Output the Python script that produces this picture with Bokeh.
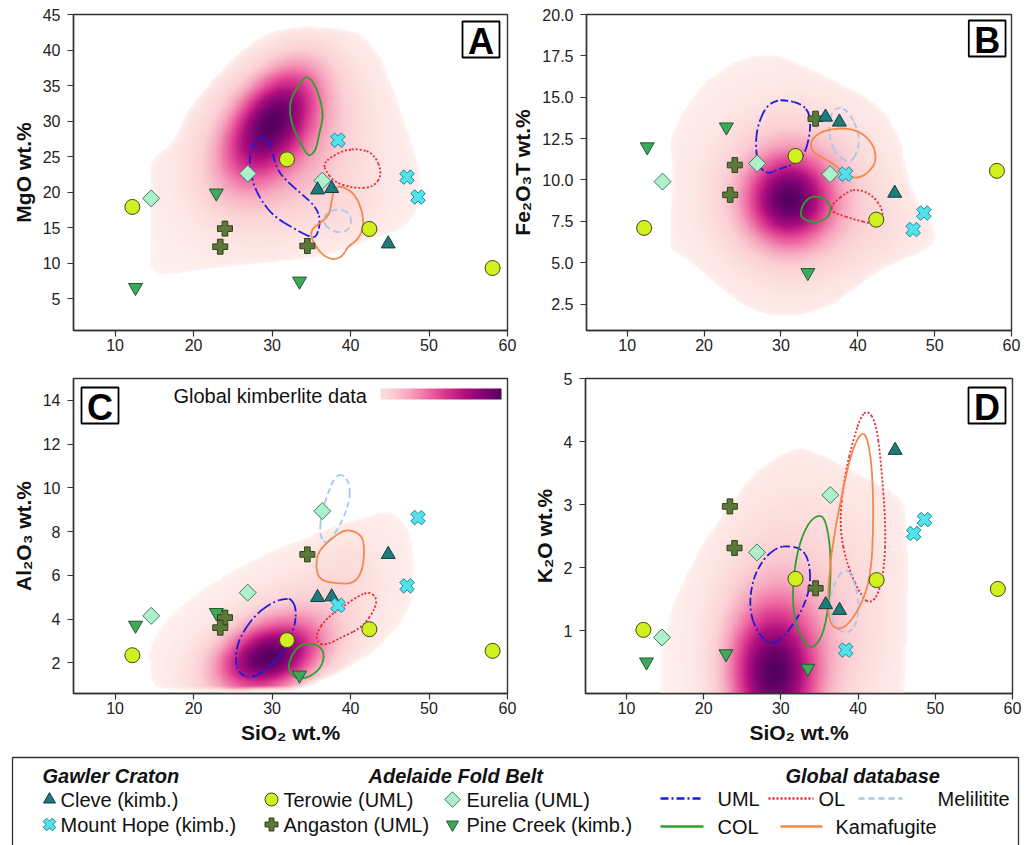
import numpy as np
from bokeh.plotting import figure
from bokeh.layouts import row, column
from bokeh.models import Range1d, FixedTicker, NumeralTickFormatter, Label, BoxAnnotation, LinearColorMapper
from bokeh.core.properties import value
from bokeh.embed import file_html
from bokeh.resources import INLINE

FONT = "Liberation Sans"

# ---------------- sample data (wt.%) ----------------
terowie_sio2 = [12.2, 31.9, 42.4, 58.1]
terowie_mgo = [17.9, 24.6, 14.8, 9.3]
terowie_fe2o3 = [7.1, 11.45, 7.6, 10.55]
terowie_al2o3 = [2.35, 3.04, 3.54, 2.55]
terowie_k2o = [1.01, 1.82, 1.80, 1.66]

eurelia_sio2 = [14.6, 26.9, 36.4]
eurelia_mgo = [19.1, 22.6, 21.6]
eurelia_fe2o3 = [9.9, 11.0, 10.35]
eurelia_al2o3 = [4.15, 5.21, 8.94]
eurelia_k2o = [0.89, 2.24, 3.15]

pinecreek_sio2 = [12.6, 22.9, 33.5]
pinecreek_mgo = [6.55, 19.85, 7.45]
pinecreek_fe2o3 = [12.0, 13.2, 4.4]
pinecreek_al2o3 = [3.72, 4.3, 1.44]
pinecreek_k2o = [0.5, 0.63, 0.4]

angaston_sio2 = [24.0, 23.4, 34.5]
angaston_mgo = [14.85, 12.3, 12.4]
angaston_fe2o3 = [10.9, 9.1, 13.7]
angaston_al2o3 = [4.07, 3.61, 6.96]
angaston_k2o = [2.31, 2.97, 1.67]

cleve_sio2 = [35.8, 37.6, 44.8]
cleve_mgo = [20.3, 20.5, 12.7]
cleve_fe2o3 = [13.8, 13.5, 9.2]
cleve_al2o3 = [4.99, 5.02, 6.96]
cleve_k2o = [1.41, 1.32, 3.86]

mounthope_sio2 = [38.4, 47.2, 48.6]
mounthope_mgo = [27.3, 22.1, 19.3]
mounthope_fe2o3 = [10.35, 7.0, 8.0]
mounthope_al2o3 = [4.63, 5.52, 8.64]
mounthope_k2o = [0.69, 2.54, 2.76]

# ---------------- global database fields (traced outlines) ----------------
uml_mgo_x = [28.6, 27.3, 27.1, 27.5, 28.6, 30.3, 32.8, 34.9, 35.7, 36.2, 35.6, 33.7, 32.0, 30.7, 30.05, 29.6]
uml_mgo_y = [27.8, 26.3, 24.0, 21.4, 18.8, 16.5, 14.85, 13.6, 13.7, 16.0, 17.9, 19.8, 21.4, 23.05, 25.4, 27.3]
col_mgo_x = [34.2, 32.4, 32.2, 32.8, 33.9, 34.7, 35.6, 36.0, 36.55, 36.2, 35.4, 34.7]
col_mgo_y = [36.3, 33.4, 31.0, 28.7, 26.3, 24.9, 25.9, 28.2, 30.6, 32.9, 35.25, 36.1]
ol_mgo_x = [36.6, 37.5, 39.2, 41.1, 43.0, 44.07, 43.0, 40.5, 37.9, 36.8]
ol_mgo_y = [24.0, 24.9, 25.9, 26.1, 25.4, 22.6, 20.7, 20.5, 21.4, 23.05]
kam_mgo_x = [38.8, 40.5, 41.5, 41.7, 40.9, 39.6, 39.0, 37.7, 36.2, 35.1, 34.9, 36.0, 37.3, 37.6, 37.9]
kam_mgo_y = [20.9, 19.8, 17.4, 15.1, 13.2, 12.3, 10.9, 10.4, 11.3, 13.2, 14.6, 15.55, 16.7, 18.8, 20.5]
mel_mgo_x = [38.3, 39.8, 40.2, 39.4, 37.7, 36.4, 36.85]
mel_mgo_y = [17.65, 17.2, 15.55, 14.3, 14.4, 15.8, 17.0]

uml_fe_x = [30.56, 32.7, 33.8, 33.8, 33.1, 31.85, 29.7, 28.4, 27.1, 26.7, 26.9, 28.0, 29.3]
uml_fe_y = [14.83, 14.6, 14.0, 12.8, 11.55, 10.95, 10.65, 10.35, 10.75, 11.95, 13.2, 14.4, 14.8]
mel_fe_x = [37.45, 38.75, 40.26, 40.0, 39.2, 37.45, 36.4, 36.2, 36.6]
mel_fe_y = [14.4, 14.2, 12.77, 11.76, 11.05, 11.35, 12.36, 13.37, 14.08]
kam_fe_x = [33.8, 35.3, 38.3, 40.5, 42.0, 42.4, 42.0, 40.5, 38.75, 37.0, 35.3, 34.0]
kam_fe_y = [12.36, 12.97, 13.17, 12.87, 12.16, 11.35, 10.75, 10.14, 10.14, 10.95, 11.35, 11.76]
col_fe_x = [34.65, 35.95, 36.6, 35.95, 34.2, 32.5, 32.7, 33.6]
col_fe_y = [9.03, 8.83, 8.22, 7.61, 7.41, 7.71, 8.42, 8.93]
ol_fe_x = [36.6, 38.75, 40.0, 41.8, 43.3, 43.1, 41.8, 39.6, 37.45, 36.6]
ol_fe_y = [8.52, 9.33, 9.43, 9.13, 8.22, 7.41, 7.35, 7.61, 7.92, 8.12]

mel_al_x = [39.0, 39.9, 39.9, 39.0, 37.75, 36.7, 36.06, 36.27, 37.1, 37.97]
mel_al_y = [10.65, 10.19, 9.43, 8.52, 7.76, 7.42, 7.9, 8.82, 9.74, 10.5]
kam_al_x = [40.3, 41.57, 41.8, 41.4, 40.3, 38.2, 36.06, 35.55, 35.85, 37.3, 39.0]
kam_al_y = [8.06, 7.76, 7.0, 6.08, 5.62, 5.62, 5.78, 6.39, 7.07, 7.6, 8.06]
ol_al_x = [42.4, 43.26, 43.26, 41.57, 39.0, 36.9, 35.85, 35.6, 36.9, 39.0, 41.1]
ol_al_y = [5.24, 5.02, 4.56, 3.64, 3.19, 2.81, 2.88, 3.34, 4.03, 4.56, 5.09]
uml_al_x = [32.46, 33.1, 32.9, 31.6, 29.3, 27.4, 25.7, 25.25, 25.9, 27.8, 30.1, 31.8]
uml_al_y = [4.91, 4.48, 3.65, 2.58, 1.67, 1.29, 1.51, 2.27, 3.19, 4.18, 4.79, 4.94]
col_al_x = [34.8, 36.27, 36.7, 36.06, 34.36, 32.9, 32.0, 32.46, 33.5]
col_al_y = [2.91, 2.73, 2.27, 1.67, 1.29, 1.29, 1.74, 2.35, 2.81]

ol_k_x = [41.2, 42.3, 42.95, 43.6, 43.4, 42.7, 41.65, 40.57, 38.63, 37.55, 38.2, 39.5, 40.35]
ol_k_y = [4.5, 4.31, 3.71, 2.65, 2.01, 1.59, 1.43, 1.51, 2.01, 2.65, 3.44, 4.08, 4.39]
kam_k_x = [40.35, 41.2, 41.86, 42.0, 41.65, 40.35, 38.2, 36.47, 36.0, 36.47, 37.76, 39.06]
kam_k_y = [4.15, 4.08, 3.55, 2.65, 1.86, 1.38, 1.01, 1.06, 1.38, 2.23, 3.07, 3.81]
col_k_x = [34.96, 35.82, 36.47, 36.4, 35.6, 34.3, 33.23, 31.7, 31.5, 32.15, 33.45]
col_k_y = [2.85, 2.75, 2.28, 1.59, 0.96, 0.72, 0.75, 1.17, 1.70, 2.28, 2.70]
uml_k_x = [30.85, 32.58, 33.66, 33.88, 32.58, 30.4, 28.7, 26.97, 25.9, 26.3, 27.8, 29.56]
uml_k_y = [2.34, 2.31, 2.12, 1.70, 1.27, 0.9, 0.77, 0.96, 1.33, 1.80, 2.15, 2.32]
mel_k_x = [38.2, 39.3, 40.14, 39.9, 38.63, 36.9, 36.25, 36.7]
mel_k_y = [2.01, 1.86, 1.49, 1.12, 0.93, 1.06, 1.38, 1.70]

# ---------------- global kimberlite density: outer edge + interior blobs ----------------
dens_mgo_edge_x = [14.5, 14.3, 14.5, 17.5, 19.2, 22.6, 26.0, 29.4, 33.7, 37.9, 41.3, 43.9, 46.0, 47.7, 49.0, 48.5,
                   46.4, 42.2, 37.9, 33.7, 27.3, 20.9, 16.7]
dens_mgo_edge_y = [8.5, 18.8, 24.5, 27.3, 31.5, 36.2, 39.9, 42.5, 43.5, 43.2, 42.5, 39.0, 32.9, 27.3, 22.6, 17.0,
                   14.6, 13.2, 11.3, 10.4, 9.9, 9.0, 8.3]
dens_mgo_cx = [30.0, 30.5, 32.0, 40.0]
dens_mgo_cy = [30.0, 27.5, 25.0, 18.0]
dens_mgo_sx = [3.6, 6.0, 10.0, 4.0]
dens_mgo_sy = [4.8, 7.0, 10.0, 4.0]
dens_mgo_rho = [0.5, 0.3, 0.1, 0.0]
dens_mgo_w = [1.0, 0.35, 0.12, 0.06]

dens_fe_edge_x = [26.25, 29.3, 31.0, 33.6, 37.0, 40.5, 43.5, 45.6, 46.5, 47.8, 50.0, 50.2, 47.8, 43.5, 40.5, 37.0,
                  32.7, 28.4, 24.1, 21.5, 18.1, 15.5, 15.5, 15.9, 15.5, 17.2, 19.8, 23.2]
dens_fe_edge_y = [17.5, 17.6, 17.3, 16.8, 16.0, 15.2, 14.2, 12.4, 10.3, 8.7, 7.1, 6.1, 5.5, 4.7, 3.7, 2.5,
                  1.75, 1.75, 2.66, 3.7, 5.1, 5.7, 7.7, 10.3, 12.4, 14.2, 15.8, 17.0]
dens_fe_cx = [31.0, 31.5, 32.0, 44.0]
dens_fe_cy = [8.8, 9.0, 9.5, 7.0]
dens_fe_sx = [3.3, 6.0, 10.0, 4.0]
dens_fe_sy = [1.6, 2.8, 5.0, 1.5]
dens_fe_rho = [0.0, 0.0, 0.0, 0.0]
dens_fe_w = [1.0, 0.3, 0.12, 0.05]

dens_al_edge_x = [14.66, 14.2, 15.7, 18.3, 21.65, 25.9, 30.1, 35.6, 40.3, 44.1, 46.2, 47.7, 48.1, 47.9, 46.2, 42.8,
                  37.75, 33.5, 25.0, 18.7]
dens_al_edge_y = [0.83, 2.58, 3.64, 4.56, 5.47, 6.39, 7.15, 7.9, 8.52, 8.9, 8.8, 7.9, 6.39, 4.86, 3.64, 2.43,
                  1.36, 0.75, 0.68, 0.75]
dens_al_cx = [29.5, 30.5, 33.0, 39.5]
dens_al_cy = [2.2, 2.6, 4.0, 6.5]
dens_al_sx = [3.8, 6.0, 10.0, 3.0]
dens_al_sy = [0.95, 1.5, 3.0, 1.2]
dens_al_rho = [0.3, 0.4, 0.6, 0.0]
dens_al_w = [1.0, 0.3, 0.1, 0.05]

dens_k_edge_x = [14.45, 14.45, 16.2, 19.6, 23.1, 26.5, 30.0, 32.6, 35.2, 39.1, 43.4, 46.0, 46.6, 46.4, 46.0]
dens_k_edge_y = [-0.1, 0.69, 1.49, 2.33, 2.97, 3.49, 3.81, 3.91, 3.81, 3.55, 3.28, 3.07, 2.12, 1.06, -0.1]
dens_k_cx = [29.0, 30.0, 33.0, 40.0]
dens_k_cy = [0.3, 0.6, 1.5, 1.5]
dens_k_sx = [3.4, 5.5, 9.0, 4.0]
dens_k_sy = [0.65, 1.1, 2.0, 1.2]
dens_k_rho = [0.0, 0.0, 0.0, 0.0]
dens_k_w = [1.0, 0.3, 0.1, 0.04]

x_ticks = [10, 20, 30, 40, 50, 60]
mgo_ticks = [5, 10, 15, 20, 25, 30, 35, 40, 45]
fe_ticks = [2.5, 5.0, 7.5, 10.0, 12.5, 15.0, 17.5, 20.0]
al_ticks = [2, 4, 6, 8, 10, 12, 14]
k_ticks = [1, 2, 3, 4, 5]

# ---------------- styling ----------------
STOPS = ["#fef4f2", "#fde6e4", "#fbd0d4", "#f6a5bd", "#ee6aa2", "#d9358f", "#b00f7d", "#820474", "#55005f"]
C_UML, C_OL, C_MEL, C_COL, C_KAM = "#1c1cdc", "#e8262e", "#a7c7ee", "#2ea02e", "#f4874c"
D_UML, D_OL, D_MEL = "8 3 2 3", "2 2", "6 4"


def build_palette(stops, n=256):
    rgb = np.array([[int(s[i:i + 2], 16) for i in (1, 3, 5)] for s in stops], float)
    pos = np.linspace(0, 1, len(stops))
    t = np.linspace(0, 1, n)
    cols = [np.interp(t, pos, rgb[:, k]) for k in range(3)]
    return ["#%02x%02x%02x" % (int(round(r)), int(round(g)), int(round(b))) for r, g, b in zip(*cols)]


PAL = build_palette(STOPS)
mapper = LinearColorMapper(palette=PAL, low=0, high=1, nan_color="rgba(0,0,0,0)")


def inside_polygon(X, Y, px, py):
    inside = np.zeros(X.shape, bool)
    n = len(px)
    j = n - 1
    for i in range(n):
        xi, yi, xj, yj = px[i], py[i], px[j], py[j]
        cond = ((yi > Y) != (yj > Y)) & (X < (xj - xi) * (Y - yi) / (yj - yi + 1e-12) + xi)
        inside ^= cond
        j = i
    return inside


def box_blur(M, r):
    k = 2 * r + 1
    pad = np.pad(M, r, mode="edge")
    c = np.vstack([np.zeros((1, pad.shape[1])), np.cumsum(pad, axis=0)])
    M1 = (c[k:, :] - c[:-k, :]) / k
    c = np.hstack([np.zeros((M1.shape[0], 1)), np.cumsum(M1, axis=1)])
    return (c[:, k:] - c[:, :-k]) / k


def density_image(edge_x, edge_y, cx, cy, sx, sy, rho, w, xr, yr, n=300):
    xs = np.linspace(xr[0], xr[1], n)
    ys = np.linspace(yr[0], yr[1], n)
    X, Y = np.meshgrid(xs, ys)
    D = np.zeros_like(X)
    for a, b, c, d, r, ww in zip(cx, cy, sx, sy, rho, w):
        u = (X - a) / c
        v = (Y - b) / d
        D += ww * np.exp(-(u * u - 2 * r * u * v + v * v) / (2 * (1 - r * r)))
    D /= D.max()
    M = inside_polygon(X, Y, edge_x, edge_y).astype(float)
    M = box_blur(box_blur(M, 5), 5)
    fade = np.clip((M - 0.5) * 3.0, 0, 1)
    img = (D ** 0.72) * (0.2 + 0.8 * fade)
    img[M < 0.5] = np.nan
    return img


def make_panel(width, height, xr, yr, mb, ylabel, yticks, xlabel=None, yfmt=None):
    p = figure(width=width, height=height, x_range=Range1d(*xr), y_range=Range1d(*yr),
               output_backend="svg", toolbar_location=None,
               min_border_left=mb[0], min_border_right=mb[1], min_border_top=mb[2], min_border_bottom=mb[3])
    p.xgrid.visible = False
    p.ygrid.visible = False
    p.outline_line_color = "#333333"
    p.outline_line_width = 1.4
    p.border_fill_alpha = 0
    for ax in (p.xaxis[0], p.yaxis[0]):
        ax.axis_line_color = "#333333"
        ax.axis_line_width = 1.4
        ax.major_tick_line_color = "#333333"
        ax.major_tick_line_width = 1.2
        ax.major_tick_out = 6
        ax.major_tick_in = 0
        ax.minor_tick_out = 0
        ax.minor_tick_in = 0
        ax.major_label_text_font = FONT
        ax.major_label_text_font_size = "16px"
        ax.major_label_text_color = "#222222"
        ax.axis_label_text_font = FONT
        ax.axis_label_text_font_size = "21px"
        ax.axis_label_text_font_style = "bold"
        ax.axis_label_text_color = "#111111"
    p.xaxis.ticker = FixedTicker(ticks=x_ticks)
    p.yaxis.ticker = FixedTicker(ticks=yticks)
    if yfmt:
        p.yaxis.formatter = NumeralTickFormatter(format=yfmt)
    p.xaxis.major_label_standoff = 2
    p.yaxis.major_label_standoff = 7
    p.yaxis.axis_label = ylabel
    p.yaxis.axis_label_standoff = 5
    if xlabel:
        p.xaxis.axis_label = xlabel
        p.xaxis.axis_label_standoff = 4
    return p


def closed_curve(p, xs, ys, color, dash="solid", width=1.8):
    n = len(xs)
    mx = [(xs[i] + xs[(i + 1) % n]) / 2 for i in range(n)]
    my = [(ys[i] + ys[(i + 1) % n]) / 2 for i in range(n)]
    x0 = [mx[i - 1] for i in range(n)]
    y0 = [my[i - 1] for i in range(n)]
    p.quadratic(x0=x0, y0=y0, x1=mx, y1=my, cx=list(xs), cy=list(ys),
                line_color=color, line_dash=dash, line_width=width)


def add_samples(p, ter, eur, pin, ang, cle, mh):
    p.scatter(pin[0], pin[1], marker="inverted_triangle", size=14, fill_color="#3fa95a", line_color="#1e5a30", line_width=1)
    p.scatter(ang[0], ang[1], marker="plus", size=15, fill_color="#5b7a3a", line_color="#2e3f1c", line_width=1)
    p.scatter(eur[0], eur[1], marker="square", angle=np.pi / 4, size=12, fill_color="#aef0cc", line_color="#3d7d5d", line_width=1)
    p.scatter(cle[0], cle[1], marker="triangle", size=14, fill_color="#1f7b7b", line_color="#0f3f3f", line_width=1)
    p.scatter(mh[0], mh[1], marker="plus", angle=np.pi / 4, size=15, fill_color="#4fe3ea", line_color="#2a7f9a", line_width=1)
    p.scatter(ter[0], ter[1], marker="circle", size=15, fill_color="#d2ef1e", line_color="#3a4a1a", line_width=1)


def px_x(xr, fw, px):
    return xr[0] + px * (xr[1] - xr[0]) / fw


def px_y(yr, fh, px):
    return yr[1] - px * (yr[1] - yr[0]) / fh


def panel_letter(p, letter, xr, yr, fw, fh, left_px, top_px):
    bw, bh = 37, 36
    box = BoxAnnotation(left=px_x(xr, fw, left_px), right=px_x(xr, fw, left_px + bw),
                        top=px_y(yr, fh, top_px), bottom=px_y(yr, fh, top_px + bh),
                        fill_color="white", fill_alpha=1, line_color="black", line_alpha=1, line_width=1.8)
    p.add_layout(box)
    p.add_layout(Label(x=px_x(xr, fw, left_px + bw / 2), y=px_y(yr, fh, top_px + bh - 16), text=letter,
                       text_align="center", text_baseline="alphabetic", text_font=FONT,
                       text_font_size="36px", text_font_style="bold", text_color="black"))


# ---------------- panels ----------------
XR = (4.7, 60)
A_YR, B_YR, C_YR, D_YR = (0.5, 45), (0.9, 20), (0.6, 15), (0.0, 5)

pA = make_panel(520, 360, XR, A_YR, (73, 13, 14, 30), "MgO wt.%", mgo_ticks)
pB = make_panel(523, 360, XR, B_YR, (75, 20, 14, 30), "Fe\u2082O\u2083T wt.%", fe_ticks, yfmt="0.0")
pC = make_panel(520, 392, XR, C_YR, (73, 13, 18, 59), "Al\u2082O\u2083 wt.%", al_ticks, xlabel="SiO\u2082 wt.%")
pD = make_panel(523, 392, XR, D_YR, (77, 19, 18, 59), "K\u2082O wt.%", k_ticks, xlabel="SiO\u2082 wt.%")
pB.margin = (0, 0, 0, -12)
pD.margin = (0, 0, 0, -12)

panels = [
    (pA, A_YR, (dens_mgo_edge_x, dens_mgo_edge_y, dens_mgo_cx, dens_mgo_cy, dens_mgo_sx, dens_mgo_sy, dens_mgo_rho, dens_mgo_w)),
    (pB, B_YR, (dens_fe_edge_x, dens_fe_edge_y, dens_fe_cx, dens_fe_cy, dens_fe_sx, dens_fe_sy, dens_fe_rho, dens_fe_w)),
    (pC, C_YR, (dens_al_edge_x, dens_al_edge_y, dens_al_cx, dens_al_cy, dens_al_sx, dens_al_sy, dens_al_rho, dens_al_w)),
    (pD, D_YR, (dens_k_edge_x, dens_k_edge_y, dens_k_cx, dens_k_cy, dens_k_sx, dens_k_sy, dens_k_rho, dens_k_w)),
]
for p, yr, blobs in panels:
    img = density_image(*blobs, XR, yr)
    p.image(image=[img], x=XR[0], y=yr[0], dw=XR[1] - XR[0], dh=yr[1] - yr[0], color_mapper=mapper)

# outlines
for p, sets in [
    (pA, [(uml_mgo_x, uml_mgo_y), (ol_mgo_x, ol_mgo_y), (mel_mgo_x, mel_mgo_y), (col_mgo_x, col_mgo_y), (kam_mgo_x, kam_mgo_y)]),
    (pB, [(uml_fe_x, uml_fe_y), (ol_fe_x, ol_fe_y), (mel_fe_x, mel_fe_y), (col_fe_x, col_fe_y), (kam_fe_x, kam_fe_y)]),
    (pC, [(uml_al_x, uml_al_y), (ol_al_x, ol_al_y), (mel_al_x, mel_al_y), (col_al_x, col_al_y), (kam_al_x, kam_al_y)]),
    (pD, [(uml_k_x, uml_k_y), (ol_k_x, ol_k_y), (mel_k_x, mel_k_y), (col_k_x, col_k_y), (kam_k_x, kam_k_y)]),
]:
    (ux, uy), (ox, oy), (mx_, my_), (cx_, cy_), (kx, ky) = sets
    closed_curve(p, ux, uy, C_UML, D_UML)
    closed_curve(p, ox, oy, C_OL, D_OL)
    closed_curve(p, mx_, my_, C_MEL, D_MEL)
    closed_curve(p, cx_, cy_, C_COL)
    closed_curve(p, kx, ky, C_KAM)

add_samples(pA, (terowie_sio2, terowie_mgo), (eurelia_sio2, eurelia_mgo), (pinecreek_sio2, pinecreek_mgo),
            (angaston_sio2, angaston_mgo), (cleve_sio2, cleve_mgo), (mounthope_sio2, mounthope_mgo))
add_samples(pB, (terowie_sio2, terowie_fe2o3), (eurelia_sio2, eurelia_fe2o3), (pinecreek_sio2, pinecreek_fe2o3),
            (angaston_sio2, angaston_fe2o3), (cleve_sio2, cleve_fe2o3), (mounthope_sio2, mounthope_fe2o3))
add_samples(pC, (terowie_sio2, terowie_al2o3), (eurelia_sio2, eurelia_al2o3), (pinecreek_sio2, pinecreek_al2o3),
            (angaston_sio2, angaston_al2o3), (cleve_sio2, cleve_al2o3), (mounthope_sio2, mounthope_al2o3))
add_samples(pD, (terowie_sio2, terowie_k2o), (eurelia_sio2, eurelia_k2o), (pinecreek_sio2, pinecreek_k2o),
            (angaston_sio2, angaston_k2o), (cleve_sio2, cleve_k2o), (mounthope_sio2, mounthope_k2o))

panel_letter(pA, "A", XR, A_YR, 434, 316, 434 - 8 - 37, 7)
panel_letter(pB, "B", XR, B_YR, 428, 316, 428 - 6 - 37, 6)
panel_letter(pC, "C", XR, C_YR, 434, 315, 8, 9)
panel_letter(pD, "D", XR, D_YR, 427, 315, 427 - 7 - 37, 9)

# colour key in panel C
grad = np.array([np.linspace(0.18, 1.0, 200)])
pC.image(image=[grad], x=px_x(XR, 434, 307), y=px_y(C_YR, 315, 21), dw=px_x(XR, 434, 428) - px_x(XR, 434, 307),
         dh=px_y(C_YR, 315, 10) - px_y(C_YR, 315, 21), color_mapper=mapper)
pC.add_layout(Label(x=px_x(XR, 434, 100), y=px_y(C_YR, 315, 17), text="Global kimberlite data",
                    text_align="left", text_baseline="middle", text_font=FONT, text_font_size="20px",
                    text_color="#111111"))

# ---------------- legend ----------------
pL = figure(width=1031, height=93, x_range=Range1d(0, 1031), y_range=Range1d(845, 752),
            output_backend="svg", toolbar_location=None, min_border=0)
pL.axis.visible = False
pL.grid.visible = False
pL.outline_line_color = None
pL.quad(left=[12], right=[1018], top=[757], bottom=[860], fill_color="white", line_color="#333333", line_width=1.3)

R1, R2 = 799, 824
pL.text(x=[42, 368, 785], y=[775, 775, 775], text=["Gawler Craton", "Adelaide Fold Belt", "Global database"],
        text_font=value(FONT), text_font_size="20px", text_font_style="bold italic", text_baseline="middle",
        text_color="#111111")
pL.text(x=[60, 60, 283, 283, 466, 466],
        y=[R1, R2, R1, R2, R1, R2],
        text=["Cleve (kimb.)", "Mount Hope (kimb.)", "Terowie (UML)", "Angaston (UML)", "Eurelia (UML)", "Pine Creek (kimb.)"],
        text_font=value(FONT), text_font_size="20px", text_baseline="middle", text_color="#111111")
pL.scatter([49], [R1], marker="triangle", size=12, fill_color="#1f7b7b", line_color="#0f3f3f")
pL.scatter([49], [R2], marker="plus", angle=np.pi / 4, size=13, fill_color="#4fe3ea", line_color="#2a7f9a")
pL.scatter([271], [R1], marker="circle", size=13, fill_color="#d2ef1e", line_color="#3a4a1a")
pL.scatter([271], [R2], marker="plus", size=13, fill_color="#5b7a3a", line_color="#2e3f1c")
pL.scatter([452], [R1], marker="square", angle=np.pi / 4, size=11, fill_color="#aef0cc", line_color="#3d7d5d")
pL.scatter([452], [R2], marker="inverted_triangle", size=12, fill_color="#3fa95a", line_color="#1e5a30")

pL.line([660, 703], [798, 798], line_color=C_UML, line_dash=D_UML, line_width=2.5)
pL.line([768, 813], [798, 798], line_color=C_OL, line_dash=D_OL, line_width=2.5)
pL.line([858, 902], [798, 798], line_color=C_MEL, line_dash=D_MEL, line_width=2.5)
pL.line([660, 703], [826, 826], line_color=C_COL, line_width=2.5)
pL.line([780, 822], [826, 826], line_color=C_KAM, line_width=2.5)
pL.text(x=[717, 818, 937, 717, 835], y=[798, 798, 798, 826, 826],
        text=["UML", "OL", "Melilitite", "COL", "Kamafugite"],
        text_font=value(FONT), text_font_size="20px", text_baseline="middle", text_color="#111111")

layout = column(row(pA, pB), row(pC, pD), pL)
open("out.html", "w").write(file_html(layout, INLINE))
